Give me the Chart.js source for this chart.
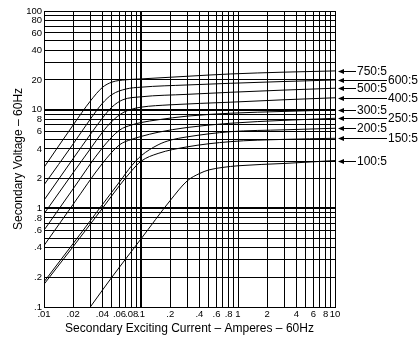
<!DOCTYPE html>
<html>
<head>
<meta charset="utf-8">
<script src="https://cdn.jsdelivr.net/npm/chart.js@4.4.1/dist/chart.umd.min.js"></script>
<style>
	html, body { margin: 0; padding: 0; background: #fff; }
</style>
</head>
<body>
<canvas id="excitationChart" width="420" height="339"></canvas>
<script>
// ratio names, top curve first
const ratios = ['750:5', '600:5', '500:5', '400:5', '300:5', '250:5', '200:5', '150:5', '100:5'];

// exciting current (A) / secondary voltage (V)
const amps750  = [0.01, 0.02, 0.03, 0.04, 0.05, 0.07, 0.1, 0.3, 0.83, 3, 10];
const volts750 = [2.6, 7.0, 12.2, 16.8, 19.0, 20.1, 20.5, 21.8, 23.0, 24.0, 24.7];
const amps600  = [0.01, 0.02, 0.03, 0.04, 0.05, 0.07, 0.1, 0.3, 0.83, 3, 10];
const volts600 = [1.73, 4.5, 8.0, 11.6, 14.2, 16.2, 16.9, 17.8, 18.5, 19.3, 20.0];
const amps500  = [0.01, 0.02, 0.03, 0.04, 0.05, 0.065, 0.1, 0.3, 0.83, 3, 10];
const volts500 = [1.21, 3.2, 5.6, 8.2, 10.6, 12.6, 13.5, 14.3, 15.0, 15.8, 16.5];
const amps400  = [0.01, 0.02, 0.03, 0.04, 0.05, 0.065, 0.08, 0.1, 0.2, 0.83, 3, 10];
const volts400 = [0.88, 2.3, 4.0, 5.9, 7.6, 9.3, 10.1, 10.6, 11.2, 11.9, 12.6, 13.2];
const amps300  = [0.01, 0.02, 0.04, 0.06, 0.08, 0.1, 0.15, 0.3, 0.83, 3, 10];
const volts300 = [0.6, 1.58, 4.1, 6.2, 7.0, 7.4, 7.9, 8.6, 9.2, 9.6, 9.93];
const amps250  = [0.01, 0.02, 0.04, 0.06, 0.08, 0.1, 0.15, 0.3, 0.83, 3, 10];
const volts250 = [0.42, 1.1, 2.85, 4.4, 5.0, 5.35, 5.9, 6.6, 7.28, 7.8, 8.18];
const amps200  = [0.01, 0.02, 0.04, 0.06, 0.08, 0.1, 0.15, 0.2, 0.3, 0.83, 3, 10];
const volts200 = [0.18, 0.44, 1.09, 1.85, 2.7, 3.4, 4.4, 4.9, 5.3, 5.98, 6.25, 6.48];
const amps150  = [0.01, 0.02, 0.04, 0.06, 0.08, 0.1, 0.15, 0.3, 0.83, 3, 10];
const volts150 = [0.17, 0.41, 1.0, 1.7, 2.4, 3.0, 3.6, 4.2, 4.74, 5.0, 5.13];
const amps100  = [0.03, 0.05, 0.1, 0.2, 0.3, 0.4, 0.5, 0.7, 1, 3, 10];
const volts100 = [0.1, 0.2, 0.49, 1.2, 1.9, 2.25, 2.45, 2.6, 2.7, 2.85, 3.05];

// grid lines and the labels printed on them
const xGrid   = [0.01,0.02,0.03,0.04,0.05,0.06,0.07,0.08,0.09,0.1,0.2,0.3,0.4,0.5,0.6,0.7,0.8,0.9,1,2,3,4,5,6,7,8,9,10];
const xLabels = ['.01','.02','','.04','','.06','','.08','','.1','.2','','.4','','.6','','.8','','1','2','','4','','6','','8','','10'];
const yGrid   = [0.1,0.2,0.3,0.4,0.5,0.6,0.7,0.8,0.9,1,2,3,4,5,6,7,8,9,10,20,30,40,50,60,70,80,90,100];
const yLabels = ['.1','.2','','.4','','.6','','.8','','1','2','','4','','6','','8','','10','20','','40','','60','','80','','100'];

const curves = [
	[amps750, volts750], [amps600, volts600], [amps500, volts500],
	[amps400, volts400], [amps300, volts300], [amps250, volts250],
	[amps200, volts200], [amps150, volts150], [amps100, volts100]
];

const FONT = '"Liberation Sans", Arial, Helvetica, sans-serif';

function toPoints(amps, volts) {
	return amps.map((a, i) => ({x: a, y: volts[i]}));
}

// arrows + ratio names to the right of the plot
const ratioLabels = {
	id: 'ratioLabels',
	afterDraw(chart) {
		const {ctx, chartArea} = chart;
		const yScale = chart.scales.y;
		ctx.save();
		ctx.font = '12px ' + FONT;
		ctx.fillStyle = '#000';
		ctx.strokeStyle = '#000';
		ctx.lineWidth = 1;
		ctx.textBaseline = 'middle';
		chart.data.datasets.forEach((ds, i) => {
			const last = ds.data[ds.data.length - 1];
			const py = Math.round(yScale.getPixelForValue(last.y)) + 0.5;
			const tip = chartArea.right + 3;
			const end = (i % 2 === 0) ? tip + 18 : tip + 49;
			ctx.beginPath();
			ctx.moveTo(tip, py);
			ctx.lineTo(tip + 6, py - 2.5);
			ctx.lineTo(tip + 6, py + 2.5);
			ctx.closePath();
			ctx.fill();
			ctx.beginPath();
			ctx.moveTo(tip + 5, py);
			ctx.lineTo(end, py);
			ctx.stroke();
			ctx.fillText(ds.label, end + 1, py);
		});
		ctx.restore();
	}
};

function drawChart() {
	const ctx = document.getElementById('excitationChart');
	new Chart(ctx, {
		type: 'line',
		data: {
			datasets: curves.map((c, i) => ({
				label: ratios[i],
				data: toPoints(c[0], c[1]),
				borderColor: '#000',
				borderWidth: 1,
				pointRadius: 0,
				fill: false,
				cubicInterpolationMode: 'monotone'
			}))
		},
		options: {
			responsive: false,
			animation: false,
			devicePixelRatio: 1,
			layout: { padding: { top: 11, right: 85, left: 0, bottom: 0 } },
			plugins: { legend: { display: false }, tooltip: { enabled: false } },
			scales: {
				x: {
					type: 'logarithmic',
					min: 0.01,
					max: 10,
					afterBuildTicks: (scale) => { scale.ticks = xGrid.map(v => ({value: v})); },
					afterFit: (scale) => { scale.height = 32; },
					ticks: {
						autoSkip: false,
						maxRotation: 0,
						padding: 2,
						color: '#000',
						font: { family: FONT, size: 9.5 },
						callback: (val, idx) => xLabels[idx]
					},
					grid: {
						color: '#000',
						drawTicks: false,
						lineWidth: (c) => (c.tick && c.tick.value === 0.1) ? 2 : 1
					},
					border: { color: '#000', width: 1 },
					title: {
						display: true,
						text: 'Secondary Exciting Current – Amperes – 60Hz',
						color: '#000',
						font: { family: FONT, size: 12 },
						padding: { top: 0, bottom: 3 }
					}
				},
				y: {
					type: 'logarithmic',
					min: 0.1,
					max: 100,
					afterBuildTicks: (scale) => { scale.ticks = yGrid.map(v => ({value: v})); },
					afterFit: (scale) => { scale.width = 44; },
					ticks: {
						autoSkip: false,
						padding: 2,
						color: '#000',
						font: { family: FONT, size: 9.5 },
						callback: (val, idx) => yLabels[idx]
					},
					grid: {
						color: '#000',
						drawTicks: false,
						lineWidth: (c) => (c.tick && (c.tick.value === 1 || c.tick.value === 10)) ? 2 : 1
					},
					border: { color: '#000', width: 1 },
					title: {
						display: true,
						text: 'Secondary Voltage – 60Hz',
						color: '#000',
						font: { family: FONT, size: 12 },
						padding: { top: 11, bottom: 0 }
					}
				}
			}
		},
		plugins: [ratioLabels]
	});
}

drawChart();
</script>
</body>
</html>
